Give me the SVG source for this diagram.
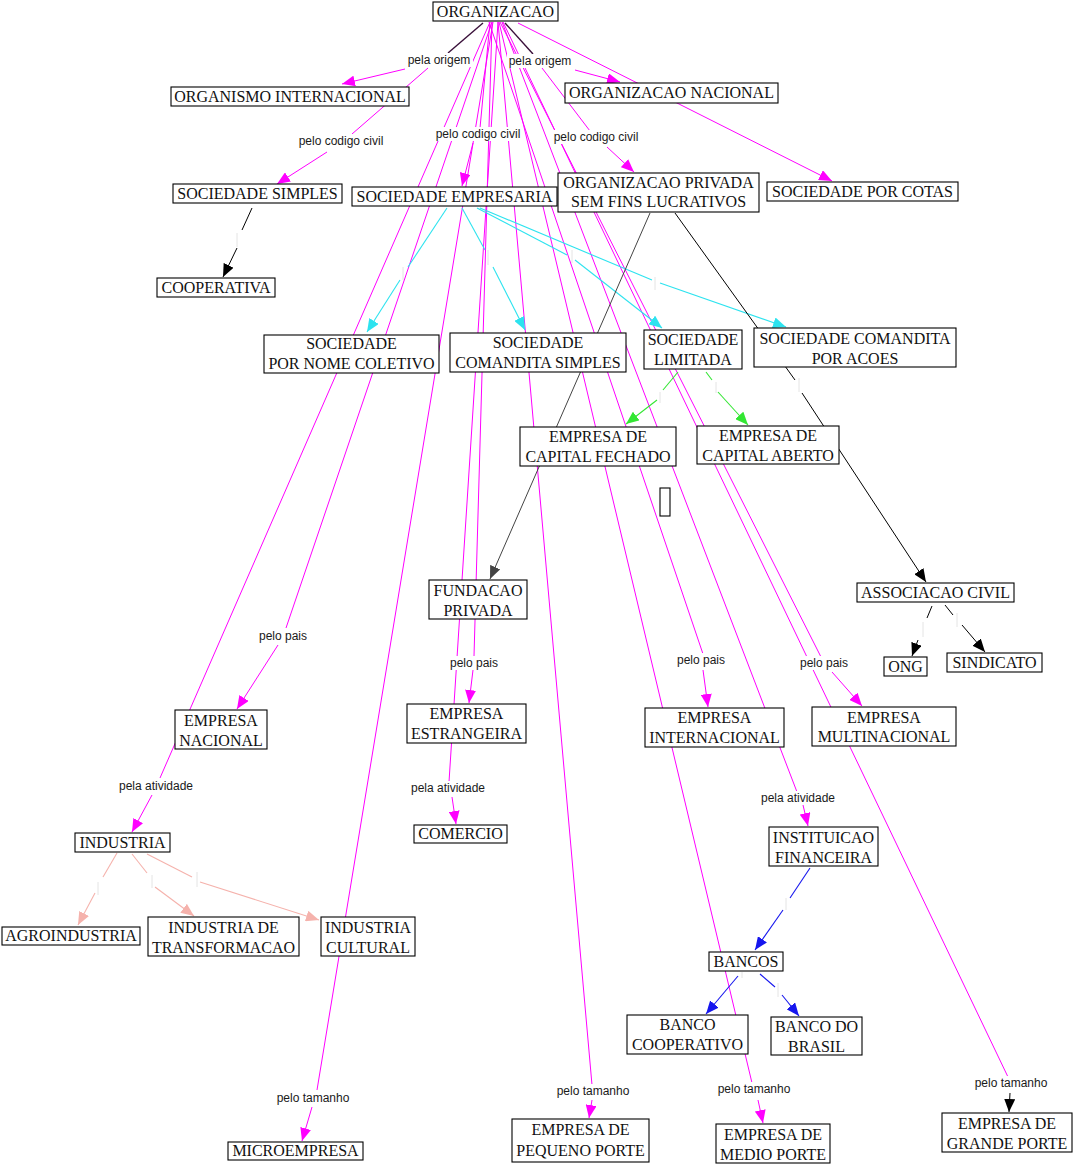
<svg xmlns="http://www.w3.org/2000/svg" width="1073" height="1165" viewBox="0 0 1073 1165">
<style>
.n rect{fill:#fff;stroke:#000;stroke-width:1.1}
.n text{font-family:"Liberation Serif","Times New Roman",serif;font-size:16px;fill:#111;text-anchor:middle}
.lb rect{fill:#fff}
.lb text{font-family:"Liberation Sans",Arial,sans-serif;font-size:12px;fill:#1a1a1a;text-anchor:middle}
.m{stroke:#f0f;stroke-width:1;fill:none}
.c{stroke:#2de3ef;stroke-width:1.1;fill:none}
.g{stroke:#33e633;stroke-width:1.1;fill:none}
.p{stroke:#f5b2ac;stroke-width:1.1;fill:none}
.b{stroke:#1616ee;stroke-width:1.1;fill:none}
.k{stroke:#000;stroke-width:1;fill:none}
.d{stroke:#3a103a;stroke-width:1.4;fill:none}
.gr{stroke:#444;stroke-width:1;fill:none}
.t{stroke:#e4e4e4;stroke-width:1}
</style>
<defs>
<marker id="am" markerUnits="userSpaceOnUse" markerWidth="13" markerHeight="11" viewBox="0 0 13 11" refX="13" refY="5.5" orient="auto"><path d="M0,0 L13,5.5 L0,11 z" fill="#f0f"/></marker>
<marker id="ac" markerUnits="userSpaceOnUse" markerWidth="13" markerHeight="11" viewBox="0 0 13 11" refX="13" refY="5.5" orient="auto"><path d="M0,0 L13,5.5 L0,11 z" fill="#2de3ef"/></marker>
<marker id="ag" markerUnits="userSpaceOnUse" markerWidth="13" markerHeight="11" viewBox="0 0 13 11" refX="13" refY="5.5" orient="auto"><path d="M0,0 L13,5.5 L0,11 z" fill="#33e633"/></marker>
<marker id="ap" markerUnits="userSpaceOnUse" markerWidth="13" markerHeight="11" viewBox="0 0 13 11" refX="13" refY="5.5" orient="auto"><path d="M0,0 L13,5.5 L0,11 z" fill="#f5b2ac"/></marker>
<marker id="ab" markerUnits="userSpaceOnUse" markerWidth="13" markerHeight="11" viewBox="0 0 13 11" refX="13" refY="5.5" orient="auto"><path d="M0,0 L13,5.5 L0,11 z" fill="#1616ee"/></marker>
<marker id="ak" markerUnits="userSpaceOnUse" markerWidth="13" markerHeight="11" viewBox="0 0 13 11" refX="13" refY="5.5" orient="auto"><path d="M0,0 L13,5.5 L0,11 z" fill="#000"/></marker>
<marker id="agr" markerUnits="userSpaceOnUse" markerWidth="13" markerHeight="11" viewBox="0 0 13 11" refX="13" refY="5.5" orient="auto"><path d="M0,0 L13,5.5 L0,11 z" fill="#444"/></marker>
</defs>
<rect width="1073" height="1165" fill="#fff"/>
<g id="connectors">
<line class="m" x1="490" y1="22" x2="160" y2="778"/>
<line class="m" x1="492" y1="22" x2="286" y2="628"/>
<line class="m" x1="493" y1="22" x2="317" y2="1090"/>
<line class="m" x1="492" y1="22" x2="474" y2="656"/>
<line class="m" x1="498" y1="22" x2="449" y2="782"/>
<line class="m" x1="490" y1="22" x2="480" y2="128"/>
<line class="m" x1="498" y1="22" x2="592" y2="1085"/>
<line class="m" x1="499" y1="22" x2="752" y2="1083"/>
<line class="m" x1="489" y1="22" x2="703" y2="654"/>
<line class="m" x1="502" y1="22" x2="797" y2="792"/>
<line class="m" x1="500" y1="22" x2="821" y2="657"/>
<line class="m" x1="503" y1="22" x2="1008" y2="1077"/>
<line class="m" x1="518" y1="23" x2="832" y2="181" marker-end="url(#am)"/>
<line class="d" x1="483" y1="23" x2="448" y2="53"/>
<line class="d" x1="505" y1="23" x2="533" y2="54"/>
<line class="m" x1="405" y1="69" x2="342" y2="84" marker-end="url(#am)"/>
<line class="m" x1="428" y1="68" x2="352" y2="134"/>
<line class="m" x1="327" y1="152" x2="277" y2="184" marker-end="url(#am)"/>
<line class="m" x1="575" y1="70" x2="620" y2="82" marker-end="url(#am)"/>
<line class="m" x1="542" y1="68" x2="590" y2="131"/>
<line class="m" x1="607" y1="147" x2="634" y2="172" marker-end="url(#am)"/>
<line class="m" x1="473" y1="143" x2="462" y2="186" marker-end="url(#am)"/>
<line class="m" x1="152" y1="795" x2="132" y2="832" marker-end="url(#am)"/>
<line class="m" x1="278" y1="645" x2="237" y2="709" marker-end="url(#am)"/>
<line class="m" x1="312" y1="1107" x2="302" y2="1141" marker-end="url(#am)"/>
<line class="m" x1="473" y1="670" x2="469" y2="703" marker-end="url(#am)"/>
<line class="m" x1="452" y1="797" x2="456" y2="824" marker-end="url(#am)"/>
<line class="m" x1="592" y1="1100" x2="589" y2="1118" marker-end="url(#am)"/>
<line class="m" x1="758" y1="1100" x2="763" y2="1123" marker-end="url(#am)"/>
<line class="m" x1="703" y1="670" x2="708" y2="707" marker-end="url(#am)"/>
<line class="m" x1="803" y1="805" x2="808" y2="826" marker-end="url(#am)"/>
<line class="m" x1="832" y1="672" x2="862" y2="706" marker-end="url(#am)"/>
<line class="k" x1="1010" y1="1093" x2="1009" y2="1112" marker-end="url(#ak)"/>
<line class="c" x1="447" y1="208" x2="408" y2="267"/><line class="t" x1="403" y1="267" x2="403" y2="280"/><line class="c" x1="400" y1="280" x2="367" y2="332" marker-end="url(#ac)"/>
<line class="c" x1="462" y1="208" x2="485" y2="250"/><line class="t" x1="488" y1="250" x2="488" y2="265"/><line class="c" x1="493" y1="267" x2="525" y2="330" marker-end="url(#ac)"/>
<line class="c" x1="477" y1="208" x2="567" y2="255"/><line class="t" x1="572" y1="250" x2="572" y2="263"/><line class="c" x1="575" y1="260" x2="662" y2="328" marker-end="url(#ac)"/>
<line class="c" x1="480" y1="208" x2="652" y2="280"/><line class="t" x1="655" y1="277" x2="655" y2="290"/><line class="c" x1="660" y1="283" x2="786" y2="327" marker-end="url(#ac)"/>
<line class="g" x1="678" y1="372" x2="663" y2="390"/><line class="t" x1="660" y1="392" x2="660" y2="403"/><line class="g" x1="657" y1="400" x2="626" y2="424" marker-end="url(#ag)"/>
<line class="g" x1="706" y1="372" x2="712" y2="380"/><line class="t" x1="716" y1="382" x2="716" y2="393"/><line class="g" x1="718" y1="392" x2="748" y2="425" marker-end="url(#ag)"/>
<line class="p" x1="117" y1="853" x2="103" y2="877"/><line class="t" x1="98" y1="882" x2="98" y2="895"/><line class="p" x1="95" y1="893" x2="78" y2="925" marker-end="url(#ap)"/>
<line class="p" x1="132" y1="854" x2="147" y2="873"/><line class="t" x1="152" y1="875" x2="152" y2="888"/><line class="p" x1="155" y1="887" x2="194" y2="916" marker-end="url(#ap)"/>
<line class="p" x1="147" y1="854" x2="192" y2="877"/><line class="t" x1="197" y1="872" x2="197" y2="887"/><line class="p" x1="200" y1="882" x2="319" y2="920" marker-end="url(#ap)"/>
<line class="b" x1="810" y1="868" x2="790" y2="898"/><line class="t" x1="786" y1="898" x2="786" y2="910"/><line class="b" x1="783" y1="910" x2="755" y2="950" marker-end="url(#ab)"/>
<line class="b" x1="738" y1="976" x2="706" y2="1014" marker-end="url(#ab)"/><line class="t" x1="742" y1="972" x2="742" y2="978"/>
<line class="b" x1="760" y1="974" x2="775" y2="987"/><line class="t" x1="778" y1="983" x2="778" y2="997"/><line class="b" x1="782" y1="995" x2="799" y2="1016" marker-end="url(#ab)"/>
<line class="k" x1="252" y1="208" x2="242" y2="230"/><line class="t" x1="237" y1="233" x2="237" y2="247"/><line class="k" x1="237" y1="248" x2="223" y2="277" marker-end="url(#ak)"/>
<line class="k" x1="675" y1="213" x2="795" y2="380"/><line class="t" x1="799" y1="378" x2="799" y2="392"/><line class="k" x1="802" y1="393" x2="926" y2="582" marker-end="url(#ak)"/>
<line class="k" x1="932" y1="606" x2="927" y2="618"/><line class="t" x1="923" y1="622" x2="923" y2="637"/><line class="k" x1="918" y1="640" x2="912" y2="656" marker-end="url(#ak)"/>
<line class="k" x1="945" y1="605" x2="953" y2="615"/><line class="t" x1="957" y1="613" x2="957" y2="627"/><line class="k" x1="962" y1="625" x2="985" y2="652" marker-end="url(#ak)"/>
<line class="gr" x1="650" y1="213" x2="490" y2="579" marker-end="url(#agr)"/>
</g>
<g id="labels" class="lb">
<g id="l-origem1"><rect x="406" y="53" width="67" height="14"/><text x="439" y="64">pela origem</text></g>
<g id="l-origem2"><rect x="507" y="54" width="67" height="14"/><text x="540" y="65">pela origem</text></g>
<g id="l-cc1"><rect x="297" y="134" width="88" height="14"/><text x="341" y="145">pelo codigo civil</text></g>
<g id="l-cc2"><rect x="434" y="127" width="88" height="14"/><text x="478" y="138">pelo codigo civil</text></g>
<g id="l-cc3"><rect x="552" y="130" width="88" height="14"/><text x="596" y="141">pelo codigo civil</text></g>
<g id="l-pais1"><rect x="257" y="629" width="52" height="14"/><text x="283" y="640">pelo pais</text></g>
<g id="l-pais2"><rect x="448" y="656" width="52" height="14"/><text x="474" y="667">pelo pais</text></g>
<g id="l-pais3"><rect x="675" y="653" width="52" height="14"/><text x="701" y="664">pelo pais</text></g>
<g id="l-pais4"><rect x="798" y="656" width="52" height="14"/><text x="824" y="667">pelo pais</text></g>
<g id="l-ativ1"><rect x="117" y="779" width="78" height="14"/><text x="156" y="790">pela atividade</text></g>
<g id="l-ativ2"><rect x="409" y="781" width="78" height="14"/><text x="448" y="792">pela atividade</text></g>
<g id="l-ativ3"><rect x="759" y="791" width="78" height="14"/><text x="798" y="802">pela atividade</text></g>
<g id="l-tam1"><rect x="275" y="1091" width="76" height="14"/><text x="313" y="1102">pelo tamanho</text></g>
<g id="l-tam2"><rect x="555" y="1084" width="76" height="14"/><text x="593" y="1095">pelo tamanho</text></g>
<g id="l-tam3"><rect x="716" y="1082" width="76" height="14"/><text x="754" y="1093">pelo tamanho</text></g>
<g id="l-tam4"><rect x="973" y="1076" width="76" height="14"/><text x="1011" y="1087">pelo tamanho</text></g>
</g>
<g id="nodes" class="n">
<g id="organizacao"><rect x="433" y="2" width="125" height="19"/><text x="495.5" y="17">ORGANIZACAO</text></g>
<g id="organismo-internacional"><rect x="171" y="87" width="238" height="19"/><text x="290" y="102">ORGANISMO INTERNACIONAL</text></g>
<g id="organizacao-nacional"><rect x="565" y="83" width="213" height="20"/><text x="671.5" y="98">ORGANIZACAO NACIONAL</text></g>
<g id="sociedade-simples"><rect x="173" y="184" width="169" height="19"/><text x="257.5" y="199">SOCIEDADE SIMPLES</text></g>
<g id="sociedade-empresaria"><rect x="352" y="187" width="205" height="19"/><text x="454.5" y="202">SOCIEDADE EMPRESARIA</text></g>
<g id="org-privada"><rect x="558" y="173" width="201" height="39"/><text x="658.5" y="188">ORGANIZACAO PRIVADA</text><text x="658.5" y="207">SEM FINS LUCRATIVOS</text></g>
<g id="sociedade-por-cotas"><rect x="767" y="182" width="191" height="19"/><text x="862.5" y="197">SOCIEDADE POR COTAS</text></g>
<g id="cooperativa"><rect x="157" y="278" width="118" height="19"/><text x="216" y="293">COOPERATIVA</text></g>
<g id="soc-nome-coletivo"><rect x="264" y="335" width="175" height="38"/><text x="351.5" y="349">SOCIEDADE</text><text x="351.5" y="369">POR NOME COLETIVO</text></g>
<g id="soc-comandita-simples"><rect x="450" y="333" width="176" height="39"/><text x="538" y="348">SOCIEDADE</text><text x="538" y="368">COMANDITA SIMPLES</text></g>
<g id="soc-limitada"><rect x="644" y="330" width="98" height="39"/><text x="693" y="345">SOCIEDADE</text><text x="693" y="365">LIMITADA</text></g>
<g id="soc-comandita-acoes"><rect x="754" y="328" width="202" height="39"/><text x="855" y="344">SOCIEDADE COMANDITA</text><text x="855" y="364">POR ACOES</text></g>
<g id="capital-fechado"><rect x="520" y="427" width="156" height="39"/><text x="598" y="442">EMPRESA DE</text><text x="598" y="462">CAPITAL FECHADO</text></g>
<g id="capital-aberto"><rect x="697" y="426" width="142" height="38"/><text x="768" y="441">EMPRESA DE</text><text x="768" y="461">CAPITAL ABERTO</text></g>
<g id="empty-node"><rect x="660" y="488" width="10" height="28"/></g>
<g id="fundacao-privada"><rect x="429" y="580" width="98" height="39"/><text x="478" y="596">FUNDACAO</text><text x="478" y="616">PRIVADA</text></g>
<g id="empresa-estrangeira"><rect x="407" y="704" width="119" height="39"/><text x="466.5" y="719">EMPRESA</text><text x="466.5" y="739">ESTRANGEIRA</text></g>
<g id="associacao-civil"><rect x="857" y="583" width="157" height="19"/><text x="935.5" y="598">ASSOCIACAO CIVIL</text></g>
<g id="ong"><rect x="884" y="657" width="43" height="19"/><text x="905.5" y="672">ONG</text></g>
<g id="sindicato"><rect x="947" y="653" width="95" height="19"/><text x="994.5" y="668">SINDICATO</text></g>
<g id="empresa-nacional"><rect x="175" y="710" width="92" height="39"/><text x="221" y="726">EMPRESA</text><text x="221" y="746">NACIONAL</text></g>
<g id="empresa-internacional"><rect x="645" y="708" width="139" height="39"/><text x="714.5" y="723">EMPRESA</text><text x="714.5" y="743">INTERNACIONAL</text></g>
<g id="empresa-multinacional"><rect x="812" y="707" width="144" height="39"/><text x="884" y="723">EMPRESA</text><text x="884" y="742">MULTINACIONAL</text></g>
<g id="industria"><rect x="75" y="833" width="95" height="19"/><text x="122.5" y="848">INDUSTRIA</text></g>
<g id="comercio"><rect x="414" y="825" width="93" height="18"/><text x="460.5" y="839">COMERCIO</text></g>
<g id="instituicao-financeira"><rect x="769" y="827" width="109" height="39"/><text x="823.5" y="843">INSTITUICAO</text><text x="823.5" y="863">FINANCEIRA</text></g>
<g id="agroindustria"><rect x="2" y="927" width="138" height="18"/><text x="71" y="941">AGROINDUSTRIA</text></g>
<g id="industria-transformacao"><rect x="148" y="917" width="151" height="39"/><text x="223.5" y="933">INDUSTRIA DE</text><text x="223.5" y="953">TRANSFORMACAO</text></g>
<g id="industria-cultural"><rect x="321" y="917" width="94" height="39"/><text x="368" y="933">INDUSTRIA</text><text x="368" y="953">CULTURAL</text></g>
<g id="bancos"><rect x="709" y="952" width="74" height="19"/><text x="746" y="967">BANCOS</text></g>
<g id="banco-cooperativo"><rect x="627" y="1015" width="121" height="39"/><text x="687.5" y="1030">BANCO</text><text x="687.5" y="1050">COOPERATIVO</text></g>
<g id="banco-do-brasil"><rect x="771" y="1017" width="91" height="38"/><text x="816.5" y="1032">BANCO DO</text><text x="816.5" y="1052">BRASIL</text></g>
<g id="microempresa"><rect x="228" y="1142" width="135" height="18"/><text x="295.5" y="1156">MICROEMPRESA</text></g>
<g id="pequeno-porte"><rect x="512" y="1119" width="137" height="43"/><text x="580.5" y="1135">EMPRESA DE</text><text x="580.5" y="1156">PEQUENO PORTE</text></g>
<g id="medio-porte"><rect x="716" y="1124" width="114" height="39"/><text x="773" y="1140">EMPRESA DE</text><text x="773" y="1160">MEDIO PORTE</text></g>
<g id="grande-porte"><rect x="942" y="1113" width="130" height="39"/><text x="1007" y="1129">EMPRESA DE</text><text x="1007" y="1149">GRANDE PORTE</text></g>
</g>
</svg>
